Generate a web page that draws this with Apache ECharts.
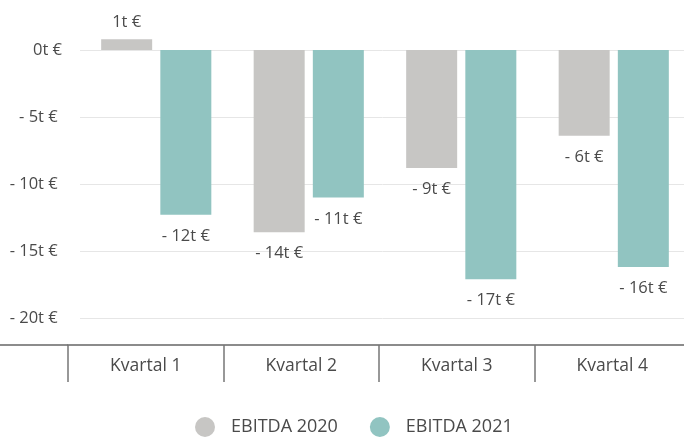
<!DOCTYPE html>
<html>
<head>
<meta charset="utf-8">
<script src="https://cdn.jsdelivr.net/npm/echarts@6/dist/echarts.min.js"></script>
<style>
  html, body { margin: 0; padding: 0; background: #fff; }
  #main { width: 684px; height: 439px; }
</style>
</head>
<body>
<div id="main"></div>
<script>
var categories = ['Kvartal 1', 'Kvartal 2', 'Kvartal 3', 'Kvartal 4'];
var ebitda2020 = [0.8, -13.6, -8.8, -6.4];
var ebitda2021 = [-12.3, -11.0, -17.1, -16.2];
var seriesNames = ['EBITDA 2020', 'EBITDA 2021'];

var FONT = '"Open Sans", sans-serif';
var TEXT = '#4a4a4a';

function money(v) {
  var r = Math.round(v);
  if (r < 0) return '- ' + Math.abs(r) + 't €';
  return r + 't €';
}

function toItems(arr) {
  return arr.map(function (v) {
    return {
      value: v,
      label: v < 0 ? { position: 'bottom', distance: 13 } : { position: 'top', distance: 8 }
    };
  });
}

function makeSeries(name, arr, color) {
  return {
    name: name,
    type: 'bar',
    xAxisIndex: 0,
    yAxisIndex: 0,
    clip: false,
    barWidth: 51,
    barGap: '16%',
    itemStyle: { color: color },
    label: {
      show: true,
      color: TEXT,
      fontFamily: FONT,
      fontSize: 16.5,
      formatter: function (p) { return money(p.value); }
    },
    data: toItems(arr)
  };
}

var myChart = echarts.init(document.getElementById('main'));
myChart.setOption({
  animation: false,
  textStyle: { fontFamily: FONT },
  legend: {
    bottom: -3,
    left: 190,
    icon: 'circle',
    itemWidth: 20,
    itemHeight: 20,
    itemGap: 32,
    textStyle: { color: TEXT, fontSize: 18, fontFamily: FONT, padding: [0, 0, 0, 11] },
    data: seriesNames
  },
  grid: [
    { left: 80, width: 610, top: 50, height: 268, outerBoundsMode: 'none' },
    { left: 68, width: 622, top: 300, height: 45, outerBoundsMode: 'none' }
  ],
  xAxis: [
    {
      type: 'category',
      gridIndex: 0,
      data: categories,
      axisLine: { show: false },
      axisTick: { show: false },
      axisLabel: { show: false }
    },
    {
      type: 'category',
      gridIndex: 1,
      position: 'bottom',
      data: categories,
      axisLine: { show: true, onZero: false, lineStyle: { color: '#666', width: 1.5 } },
      axisTick: { show: true, length: 37, lineStyle: { color: '#777', width: 1.5 } },
      axisLabel: { show: true, color: TEXT, fontSize: 17.5, fontFamily: FONT, margin: 12 }
    }
  ],
  yAxis: [
    {
      type: 'value',
      gridIndex: 0,
      min: -20,
      max: 0,
      interval: 5,
      axisLine: { show: false },
      axisTick: { show: false },
      splitLine: { lineStyle: { color: '#e6e6e6', width: 1 } },
      axisLabel: {
        color: TEXT,
        fontSize: 16.5,
        fontFamily: FONT,
        margin: 18,
        formatter: function (v) { return v < 0 ? money(v) + '\u00a0' : money(v); }
      }
    },
    {
      type: 'value',
      gridIndex: 1,
      axisLine: { show: false },
      axisTick: { show: false },
      axisLabel: { show: false },
      splitLine: { show: false }
    }
  ],
  graphic: [
    {
      type: 'line',
      shape: { x1: 0, y1: 345, x2: 68, y2: 345 },
      style: { stroke: '#666', lineWidth: 1.5 }
    }
  ],
  series: [
    makeSeries(seriesNames[0], ebitda2020, '#c7c6c4'),
    makeSeries(seriesNames[1], ebitda2021, '#91c4c1')
  ]
});
</script>
</body>
</html>
